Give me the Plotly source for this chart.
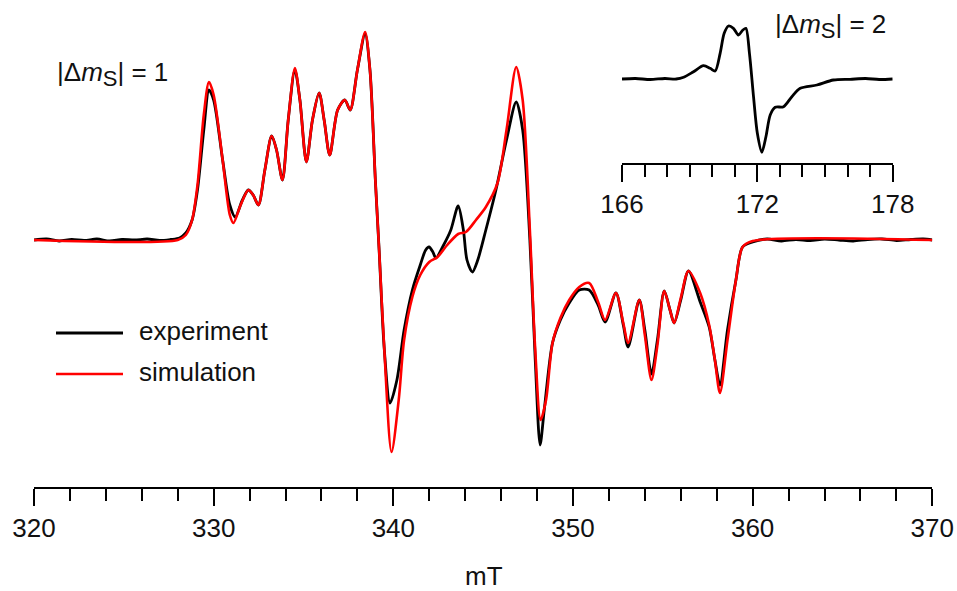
import plotly.graph_objects as go

# ---------------- data ----------------
# main spectrum, |Δm_S| = 1 ; field in mT, intensity in arbitrary units
exp_B = [320.0, 320.7, 321.4, 322.1, 322.8, 323.5, 324.2, 324.9, 325.6, 326.3, 327.0, 327.6, 328.1,
         328.45, 328.8, 329.1, 329.45, 329.74, 330.0, 330.5, 330.9, 331.2, 331.6, 331.93, 332.2,
         332.49, 332.85, 333.23, 333.5, 333.83, 334.15, 334.52, 334.8, 335.16, 335.5, 335.87,
         336.15, 336.46, 336.9, 337.3, 337.6, 338.0, 338.43, 338.7, 339.0, 339.21, 339.5, 339.82,
         340.2, 340.6, 341.06, 341.5, 341.8, 341.99, 342.2, 342.37, 342.8, 343.2, 343.61, 343.9,
         344.1, 344.4, 344.7, 345.15, 345.71, 346.3, 346.84, 347.2, 347.6, 347.9, 348.17, 348.4,
         348.86, 349.3, 349.79, 350.35, 350.9, 351.4, 351.79, 352.39, 352.8, 353.07, 353.69,
         354.0, 354.37, 354.7, 355.08, 355.4, 355.63, 356.0, 356.43, 357.08, 357.58, 357.9,
         358.18, 358.6, 359.07, 359.44, 360.0, 360.8, 361.6, 362.4, 363.2, 364.0, 364.8, 365.6,
         366.4, 367.2, 368.0, 368.8, 369.5, 370.0]
exp_I = [0, 1, -1, 0.5, -0.5, 1, -1, 0.5, 0, 1, -0.5, 0.5, 2,
         7, 20, 50, 110, 150, 140, 80, 35, 23, 40, 50, 45,
         35, 70, 104, 90, 60, 120, 170, 140, 78, 120, 147,
         120, 85, 130, 140, 130, 170, 206, 170, 60, -10, -110, -163,
         -140, -90, -50, -25, -10, -7, -12, -18, -5, 10, 34, 10,
         -20, -32, -20, 10, 50, 100, 138, 110, 0, -120, -205, -170,
         -103, -80, -63, -50, -50, -65, -82, -53, -85, -107, -60,
         -90, -134, -100, -51, -70, -83, -60, -31, -62, -87, -120,
         -145, -90, -40, -7, -2, 1, -1, 0.5, -0.5, 1, 0, -1,
         0.5, 1, -0.5, 0.5, 1, 0]

sim_B = [320.0, 328.0, 328.45, 328.8, 329.1, 329.45, 329.74, 330.0, 330.5, 330.9, 331.1, 331.5,
         331.93, 332.2, 332.49, 332.85, 333.23, 333.5, 333.83, 334.15, 334.52, 334.8, 335.16,
         335.5, 335.87, 336.15, 336.46, 336.9, 337.3, 337.6, 338.0, 338.43, 338.7, 339.0,
         339.21, 339.5, 339.9, 340.3, 340.6, 341.06, 341.5, 342.0, 342.46, 343.0, 343.61,
         344.04, 344.6, 345.15, 345.8, 346.3, 346.84, 347.2, 347.6, 347.9, 348.2, 348.5,
         348.86, 349.3, 349.79, 350.35, 350.9, 351.4, 351.79, 352.39, 352.8, 353.07, 353.69,
         354.0, 354.37, 354.7, 355.08, 355.4, 355.63, 356.0, 356.43, 357.08, 357.58, 357.9,
         358.18, 358.6, 359.07, 359.44, 360.0, 370.0]
sim_I = [0, 0, 5, 20, 55, 125, 158, 145, 80, 25, 17, 35,
         50, 45, 35, 70, 104, 90, 60, 120, 172, 140, 78,
         120, 147, 120, 85, 130, 140, 130, 170, 208, 170, 60,
         -10, -110, -212, -160, -100, -57, -35, -22, -17, -5, 6,
         8, 20, 33, 57, 110, 173, 140, 10, -110, -180, -160,
         -103, -78, -60, -47, -43, -62, -80, -53, -83, -103, -60,
         -95, -140, -105, -51, -70, -83, -58, -31, -53, -85, -120,
         -153, -100, -40, -7, -1, 0]

# inset, |Δm_S| = 2 (experiment)
ins_B = [166.0, 166.6, 167.25, 167.9, 168.4, 168.73, 169.17, 169.61, 169.91, 170.13, 170.35,
         170.53, 170.72, 170.94, 171.16, 171.36, 171.49, 171.65, 171.83, 172.0, 172.2, 172.38,
         172.57, 172.79, 173.16, 173.53, 173.9, 174.64, 175.37, 176.11, 176.8, 177.4, 178.0]
ins_I = [0, 0.5, -0.5, 0.5, 0, 1.7, 7.3, 13.3, 10.7, 8, 25.7,
         45.7, 53, 50.7, 44, 49, 50.7, 25.7, -17.7, -54.3, -73.3, -57.7,
         -36, -28.3, -27.7, -17.7, -9.3, -6, -1, -0.3, 0.5, -0.5, 0]

main_ticks = [320, 330, 340, 350, 360, 370]
inset_ticks = [166, 172, 178]

# ---------------- figure ----------------
W, H = 957, 591
FONT = "Liberation Sans, Arial, sans-serif"
FS = 26

def px(x):
    return x / W

def py(y):
    return 1 - y / H

fig = go.Figure()
fig.add_trace(go.Scatter(x=exp_B, y=exp_I, mode="lines", name="experiment",
                         line=dict(color="#000000", width=2.8, shape="spline", smoothing=0.8),
                         xaxis="x", yaxis="y", showlegend=False, hoverinfo="skip"))
fig.add_trace(go.Scatter(x=sim_B, y=sim_I, mode="lines", name="simulation",
                         line=dict(color="#ff0000", width=2.6, shape="spline", smoothing=0.8),
                         xaxis="x", yaxis="y", showlegend=False, hoverinfo="skip"))
fig.add_trace(go.Scatter(x=ins_B, y=ins_I, mode="lines", name="inset",
                         line=dict(color="#000000", width=2.8, shape="spline", smoothing=0.8),
                         xaxis="x2", yaxis="y2", showlegend=False, hoverinfo="skip"))

axis_common = dict(showgrid=False, zeroline=False, showline=True, linecolor="black",
                   linewidth=2, ticks="outside", tickcolor="black", tickwidth=2,
                   automargin=False,
                   tickfont=dict(family=FONT, size=FS, color="#111111"))

fig.update_layout(
    template="none",
    width=W, height=H,
    margin=dict(l=0, r=0, t=0, b=0, pad=0, autoexpand=False),
    paper_bgcolor="white", plot_bgcolor="white",
    showlegend=False,
    xaxis=dict(domain=[px(34), px(932.3)], range=[320, 370], anchor="y",
               tickvals=main_ticks, ticklen=17,
               minor=dict(dtick=2, tick0=320, ticklen=12, tickwidth=2, tickcolor="black", ticks="outside"),
               **axis_common),
    yaxis=dict(domain=[py(487), 1], range=[-247, 240], visible=False, automargin=False),
    xaxis2=dict(domain=[px(622), px(892.7)], range=[166, 178], anchor="y2",
                tickvals=inset_ticks, ticklen=17,
                minor=dict(dtick=1, tick0=166, ticklen=12, tickwidth=2, tickcolor="black", ticks="outside"),
                **axis_common),
    yaxis2=dict(domain=[py(163), 1], range=[-84, 79], visible=False, automargin=False),
    font=dict(family=FONT, size=FS, color="#111111"),
)

sub_s = "<sub><span style='font-size:22px'>S</span></sub>"
annots = [
    dict(x=px(484), y=py(576), text="mT"),
    dict(x=px(55), y=py(74), text="|Δ<i>m</i>" + sub_s + "| = 1", xanchor="left"),
    dict(x=px(773), y=py(26), text="|Δ<i>m</i>" + sub_s + "| = 2", xanchor="left"),
    dict(x=px(137), y=py(331), text="experiment", xanchor="left"),
    dict(x=px(137), y=py(372), text="simulation", xanchor="left"),
]
for a in annots:
    a.update(xref="paper", yref="paper", showarrow=False,
             font=dict(family=FONT, size=FS, color="#111111"))
    a.setdefault("xanchor", "center")
    a["yanchor"] = "middle"
fig.update_layout(annotations=annots)

fig.add_shape(type="line", xref="paper", yref="paper", x0=px(56), x1=px(123), y0=py(333), y1=py(333),
              line=dict(color="black", width=2.8))
fig.add_shape(type="line", xref="paper", yref="paper", x0=px(56), x1=px(123), y0=py(374), y1=py(374),
              line=dict(color="#ff0000", width=2.6))

fig.write_html("out.html", config={"displayModeBar": False},
               post_script="document.body.style.margin='0';document.body.style.overflow='hidden';")
